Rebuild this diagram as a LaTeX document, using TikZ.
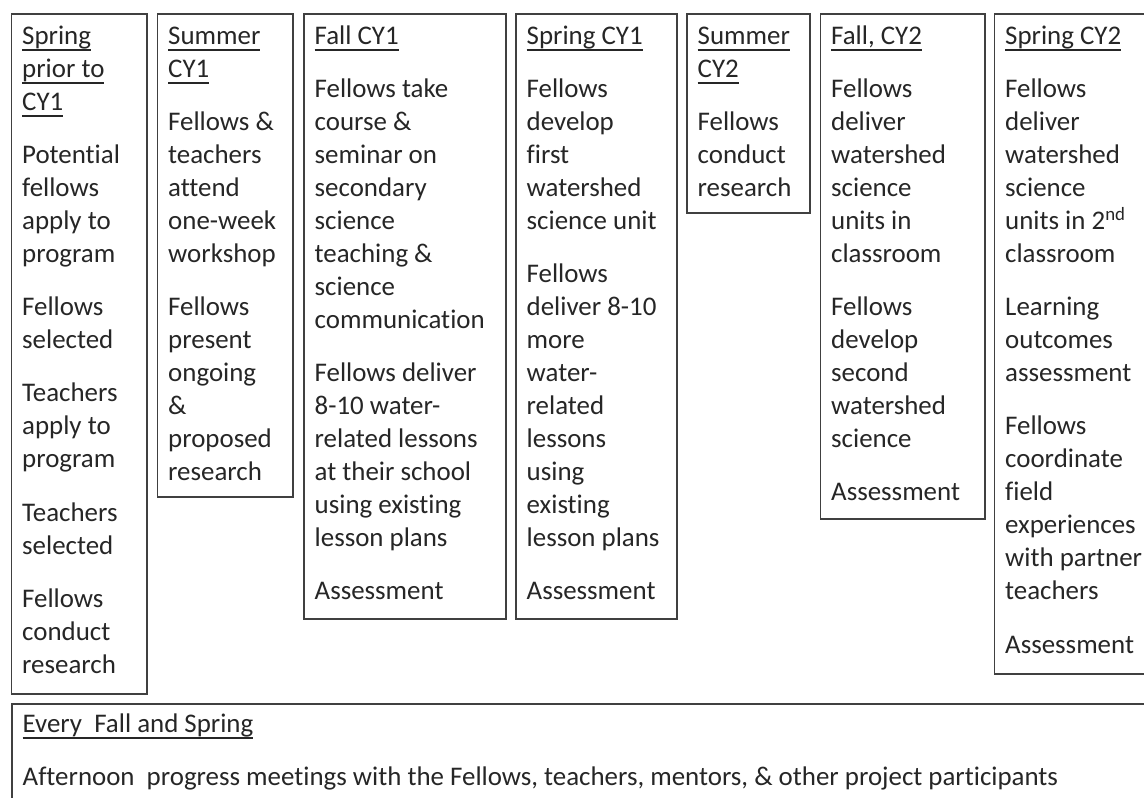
\documentclass[tikz,border=0pt]{standalone}
\usepackage{fontspec}
\setmainfont{Carlito}[Ligatures={NoCommon,NoRare,NoContextual}]
\newsavebox\myulbox
\newcommand\myul[1]{\sbox\myulbox{#1}\rlap{\rule[-6.8pt]{\wd\myulbox}{1.8pt}}\usebox\myulbox}
\begin{document}
\begin{tikzpicture}[x=1pt,y=-1pt,
  box/.style={draw=black!75, line width=1.9pt, inner sep=0pt, anchor=north west},
  txt/.style={anchor=north west, inner sep=0pt, align=left, text=black!85,
    font=\fontsize{26.9}{33}\selectfont}]
\useasboundingbox (0,0) rectangle (1144,798);
\fill[white] (0,0) rectangle (1144,798);
\clip (0,0) rectangle (1144,798);
% boxes
\node[box, minimum width=135.5pt, minimum height=680pt] (b1) at (10.5,13) {};
\node[box, minimum width=135.5pt, minimum height=483pt] (b2) at (156.5,13) {};
\node[box, minimum width=202pt, minimum height=605pt] (b3) at (303,13) {};
\node[box, minimum width=161pt, minimum height=605pt] (b4) at (515,13) {};
\node[box, minimum width=123pt, minimum height=199pt] (b5) at (686,13) {};
\node[box, minimum width=164.5pt, minimum height=505pt] (b6) at (819.5,13) {};
\node[box, minimum width=176.5pt, minimum height=660pt] (b7) at (993.5,13) {};
\node[box, minimum width=1159pt, minimum height=127pt] (b8) at (11,703) {};
% texts
\node[txt] (t1) at (22,20.9) {\strut\myul{Spring}\\\myul{prior to}\\\myul{CY1}\\[20.2pt]
Potential\\fellows\\apply to\\program\\[20.2pt]
Fellows\\selected\\[20.2pt]
Teachers\\apply to\\program\\[20.2pt]
Teachers\\selected\\[20.2pt]
Fellows\\conduct\\research};
\node[txt] (t2) at (168,20.9) {\strut\myul{Summer}\\\myul{CY1}\\[20.2pt]
Fellows \&\\teachers\\attend\\one-week\\workshop\\[20.2pt]
Fellows\\present\\ongoing\\\&\\proposed\\research};
\node[txt] (t3) at (314.5,20.9) {\strut\myul{Fall CY1}\\[20.2pt]
Fellows take\\course \&\\seminar on\\secondary\\science\\teaching \&\\science\\communication\\[20.2pt]
Fellows deliver\\8-10 water-\\related lessons\\at their school\\using existing\\lesson plans\\[20.2pt]
Assessment};
\node[txt] (t4) at (526.5,20.9) {\strut\myul{Spring CY1}\\[20.2pt]
Fellows\\develop\\first\\watershed\\science unit\\[20.2pt]
Fellows\\deliver 8-10\\more\\water-\\related\\lessons\\using\\existing\\lesson plans\\[20.2pt]
Assessment};
\node[txt] (t5) at (697.5,20.9) {\strut\myul{Summer}\\\myul{CY2}\\[20.2pt]
Fellows\\conduct\\research};
\node[txt] (t6) at (831,20.9) {\strut\myul{Fall, CY2}\\[20.2pt]
Fellows\\deliver\\watershed\\science\\units in\\classroom\\[20.2pt]
Fellows\\develop\\second\\watershed\\science\\[20.2pt]
Assessment};
\node[txt] (t7) at (1005,20.9) {\strut\myul{Spring CY2}\\[20.2pt]
Fellows\\deliver\\watershed\\science\\units in 2\textsuperscript{nd}\\classroom\\[20.2pt]
Learning\\outcomes\\assessment\\[20.2pt]
Fellows\\coordinate\\field\\experiences\\with partner\\teachers\\[20.2pt]
Assessment};
\node[txt] (t8) at (22.5,708.9) {\strut\myul{Every\ \ Fall and Spring}\\[20.2pt]
Afternoon\ \ progress meetings with the Fellows, teachers, mentors, \& other project participants};
\end{tikzpicture}
\end{document}
